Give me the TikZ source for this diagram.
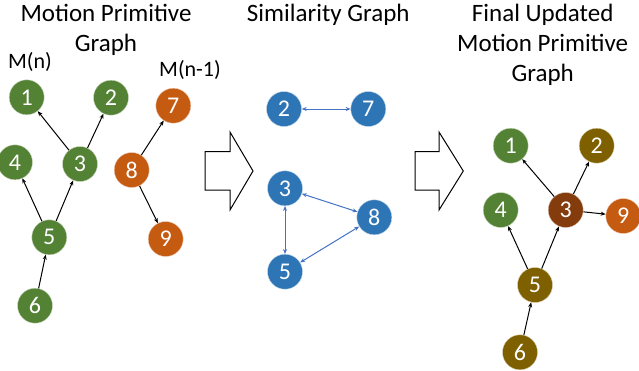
\documentclass[tikz,border=0pt]{standalone}
\usepackage{fontspec}
\setmainfont{Carlito}
\usetikzlibrary{arrows.meta,positioning,calc}
\definecolor{mpgreen}{HTML}{548235}
\definecolor{mporange}{HTML}{C55A11}
\definecolor{simblue}{HTML}{2E75B6}
\definecolor{simline}{HTML}{4472C4}
\definecolor{mpolive}{HTML}{7F6000}
\definecolor{mpbrown}{HTML}{843C0C}

\begin{document}
\begin{tikzpicture}[
    x=1pt, y=-1pt,
    mpnode/.style={circle, fill=#1, draw=white!70!#1, line width=0.4pt, minimum size=35pt, inner sep=0pt, text=white, font=\fontsize{24}{24}\selectfont},
    edge/.style={-{Stealth[length=5pt,width=4pt]}, line width=1pt},
    simedge/.style={{Stealth[length=5pt,width=4pt]}-{Stealth[length=5pt,width=4pt]}, simline, line width=1pt},
    title/.style={align=center, font=\fontsize{25}{30}\selectfont},
    bigarrow/.style={draw, line width=1pt, fill=white}
]
\useasboundingbox (0,0) rectangle (639,370);

% Motion Primitive Graph
\node[title] (t1) at (106,30) {Motion Primitive\\Graph};
\node[font=\fontsize{22}{22}\selectfont] (mn) at (30,62) {M(n)};
\node[font=\fontsize{22}{22}\selectfont] (mn1) at (190,70) {M(n-1)};
\node[mpnode=mpgreen] (A1) at (26.7,97.3) {1};
\node[mpnode=mpgreen] (A2) at (111,97.7) {2};
\node[mpnode=mpgreen] (A3) at (80,164) {3};
\node[mpnode=mpgreen] (A4) at (15,162.3) {4};
\node[mpnode=mpgreen] (A5) at (49.3,237.3) {5};
\node[mpnode=mpgreen] (A6) at (35,305.7) {6};
\node[mpnode=mporange] (A7) at (173.3,105.7) {7};
\node[mpnode=mporange] (A8) at (131.7,170) {8};
\node[mpnode=mporange] (A9) at (165.7,239) {9};
\draw[edge] (A3) -- (A1);
\draw[edge] (A3) -- (A2);
\draw[edge] (A5) -- (A4);
\draw[edge] (A5) -- (A3);
\draw[edge] (A6) -- (A5);
\draw[edge] (A8) -- (A7);
\draw[edge] (A8) -- (A9);

% first big arrow
\draw[bigarrow] (205,151.7) -- (230,151.7) -- (230,132) -- (253,171) -- (230,210)
    -- (230,190) -- (205,190) -- cycle;

% Similarity Graph
\node[title] (t2) at (328.3,15) {Similarity Graph};
\node[mpnode=simblue] (S2) at (284,109) {2};
\node[mpnode=simblue] (S7) at (368.3,109) {7};
\node[mpnode=simblue] (S3) at (285,188.3) {3};
\node[mpnode=simblue] (S8) at (374.3,217.3) {8};
\node[mpnode=simblue] (S5) at (285,271.7) {5};
\draw[simedge] (S2) -- (S7);
\draw[simedge] (S3) -- (S5);
\draw[simedge] (S3) -- (S8);
\draw[simedge] (S5) -- (S8);

% second big arrow
\draw[bigarrow] (415,151.7) -- (439,151.7) -- (439,132) -- (463.3,171) -- (439,210)
    -- (439,190) -- (415,190) -- cycle;

% Final Updated Motion Primitive Graph
\node[title] (t3) at (542.7,45) {Final Updated\\Motion Primitive\\Graph};
\node[mpnode=mpgreen] (F1) at (510.7,145.7) {1};
\node[mpnode=mpolive] (F2) at (596.7,145.7) {2};
\node[mpnode=mpgreen] (F4) at (500.7,210) {4};
\node[mpnode=mpbrown] (F3) at (565.7,210) {3};
\node[mpnode=mporange] (F9) at (623.3,216) {9};
\node[mpnode=mpolive] (F5) at (535,285) {5};
\node[mpnode=mpolive] (F6) at (520,352.3) {6};
\draw[edge] (F3) -- (F1);
\draw[edge] (F3) -- (F2);
\draw[edge] (F3) -- (F9);
\draw[edge] (F5) -- (F4);
\draw[edge] (F5) -- (F3);
\draw[edge] (F6) -- (F5);
\end{tikzpicture}
\end{document}
